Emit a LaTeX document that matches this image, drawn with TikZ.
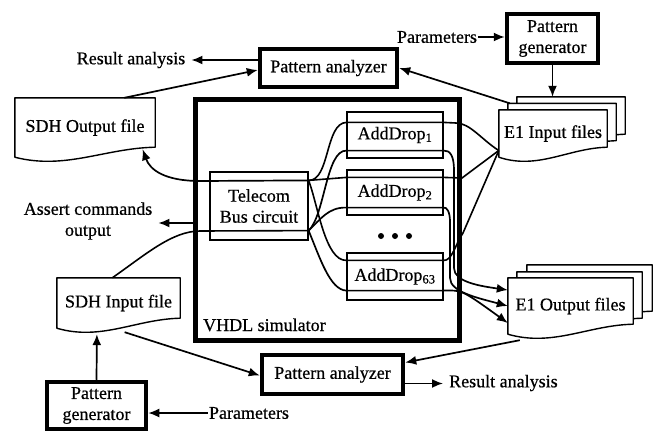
\documentclass[tikz,border=0pt]{standalone}
\usepackage{fontspec}
\setmainfont[FakeBold=0.6]{Liberation Serif}
\usetikzlibrary{arrows.meta,calc,backgrounds}
\newcommand\docoutline[1]{%
  \path[docline] (#1.north west) -- (#1.north east) -- ([yshift=10pt]#1.south east)
    .. controls ([yshift=9pt]$(#1.south west)!0.64!(#1.south east)$)
    and ([yshift=-13pt]$(#1.south west)!0.36!(#1.south east)$) .. (#1.south west) -- cycle;}
\begin{document}
\begin{tikzpicture}[x=1pt,y=-1pt,
  font=\fontsize{18}{21}\selectfont,
  every node/.style={inner sep=0pt},
  lbl/.style={inner xsep=6pt},
  parlbl/.style={inner xsep=1pt},
  heavybox/.style={draw, line width=4.5pt, align=center},
  thinbox/.style={draw, line width=1.2pt, align=center},
  frame/.style={draw, line width=5.5pt},
  docnode/.style={align=center},
  docline/.style={draw, fill=white, line width=1.4pt, line join=round},
  arr/.style={-{Latex[length=11pt,width=9pt]}, line width=1.7pt},
  wire/.style={line width=1.6pt},
  dot/.style={circle, fill, minimum size=6pt}]
\useasboundingbox (0,0) rectangle (653,434);

% nodes
\node[lbl] (ra1) at (131,60) {Result analysis};
\node[heavybox, minimum width=137pt, minimum height=38pt] (pa1) at (328.5,68) {Pattern analyzer};
\node[parlbl] (par1) at (437,37) {Parameters};
\node[heavybox, minimum width=91pt, minimum height=49pt] (pg1) at (552.5,38.5) {Pattern\\generator};
\node[frame, minimum width=264pt, minimum height=241pt] (vhdl) at (327.5,220) {};
\node[anchor=base west] (vlab) at (203,331) {VHDL simulator};
\node[thinbox, minimum width=98pt, minimum height=68pt] (tb) at (259,206) {Telecom\\Bus circuit};
\node[thinbox, minimum width=96pt, minimum height=46pt] (ad1) at (395,135) {AddDrop\textsubscript{1}};
\node[thinbox, minimum width=96pt, minimum height=45pt] (ad2) at (395,192.5) {AddDrop\textsubscript{2}};
\node[thinbox, minimum width=96pt, minimum height=47pt] (ad63) at (395,276.5) {AddDrop\textsubscript{63}};
\node[dot] (d1) at (381,236) {};
\node[dot] (d2) at (395,236) {};
\node[dot] (d3) at (409,236) {};
\node[lbl, align=center] (assert) at (88,221) {Assert commands\\output};
\node[docnode, minimum width=140pt, minimum height=59pt] (sdhout) at (85,127.5) {SDH Output file};
\node[docnode, minimum width=108pt, minimum height=47pt] (e1inc) at (571,120.5) {};
\node[docnode, minimum width=108pt, minimum height=47pt] (e1inb) at (562,127) {};
\node[docnode, minimum width=108pt, minimum height=47pt] (e1in) at (553,133.5) {E1 Input files};
\node[docnode, minimum width=123pt, minimum height=50pt] (sdhin) at (118.5,303) {SDH Input file};
\node[docnode, minimum width=125pt, minimum height=56pt] (e1outc) at (589.5,293) {};
\node[docnode, minimum width=125pt, minimum height=56pt] (e1outb) at (579.5,300) {};
\node[docnode, minimum width=125pt, minimum height=56pt] (e1out) at (570.5,306) {E1 Output files};
\node[heavybox, minimum width=141pt, minimum height=39pt] (pa2) at (332.5,374.5) {Pattern analyzer};
\node[lbl, anchor=west] (ra2) at (443,383) {Result analysis};
\node[heavybox, minimum width=99pt, minimum height=47pt] (pg2) at (96.5,405.5) {Pattern\\generator};
\node[parlbl] (par2) at (249,413) {Parameters};

\begin{pgfonlayer}{background}
  \docoutline{sdhout}
  \docoutline{e1inc}\docoutline{e1inb}\docoutline{e1in}
  \docoutline{sdhin}
  \docoutline{e1outc}\docoutline{e1outb}\docoutline{e1out}
\end{pgfonlayer}

% junction coordinates
\coordinate (tbT) at ([yshift=-9pt]tb.north east);
\coordinate (tbB) at ([yshift=10pt]tb.south east);
\coordinate (a1T) at ([yshift=-11pt]ad1.north west);
\coordinate (a1Te) at ([yshift=-11pt]ad1.north east);
\coordinate (a1B) at ([yshift=8pt]ad1.south west);
\coordinate (a1Be) at ([yshift=8pt]ad1.south east);
\coordinate (a2T) at ([yshift=-8pt]ad2.north west);
\coordinate (a2Te) at ([yshift=-8pt]ad2.north east);
\coordinate (a2B) at ([yshift=8pt]ad2.south west);
\coordinate (a2Be) at ([yshift=8pt]ad2.south east);
\coordinate (a63T) at ([yshift=-8pt]ad63.north west);
\coordinate (a63Te) at ([yshift=-8pt]ad63.north east);
\coordinate (a63B) at ([yshift=10pt]ad63.south west);
\coordinate (a63Be) at ([yshift=10pt]ad63.south east);
\coordinate (e1J) at ([yshift=-17pt]e1in.west);
\coordinate (e1o1) at ([yshift=16pt]e1out.west);
\coordinate (e1o2) at (e1out.west);
\coordinate (e1o3) at ([yshift=-17pt]e1out.west);
\coordinate (soT) at ([yshift=8pt]$(sdhout.south west)!0.91!(sdhout.south east)$);
\coordinate (soTop) at ($(sdhout.north west)!0.78!(sdhout.north east)$);
\coordinate (siTop) at ($(sdhin.north west)!0.45!(sdhin.north east)$);
\coordinate (siBot) at ([yshift=-4pt]$(sdhin.south west)!0.55!(sdhin.south east)$);
\coordinate (siIn) at ([yshift=-6pt]$(sdhin.south west)!0.325!(sdhin.south east)$);
\coordinate (eoBot) at ([xshift=12pt,yshift=-6pt]e1out.south west);
\coordinate (pa1o) at ([yshift=8pt]pa1.west);
\coordinate (pa1i) at ([yshift=-2pt]pa1.west);
\coordinate (vhdlo) at ([yshift=-3pt]vhdl.west);
\coordinate (pa2i) at ([yshift=-1pt]pa2.west);
\coordinate (pa2i2) at ([yshift=12pt]pa2.east);
\coordinate (pa2o) at ([yshift=-9pt]pa2.east);

% wires inside the simulator
\draw[wire] (tbT) .. controls (330,181) and (325,123) .. (a1T) -- (a1Te) -- (456,123)
  .. controls (470,123) and (482,140) .. (e1J);
\draw[wire] (tbT) -- (a2T) -- (a2Te) -- (462,178) -- (e1J);
\draw[wire] (tbT) .. controls (318,205) and (325,261) .. (a63T) -- (a63Te)
  .. controls (452,261) and (455,245) .. (463,233) -- (e1J);
\draw[wire] (siTop) .. controls (145,255) and (172,231) .. (200,231) -- (tbB);
\draw[wire,arr] (tbB) .. controls (325,215) and (326,150) .. (a1B) -- (a1Be)
  .. controls (450,150) and (454,156) .. (454,170) -- (454,268)
  .. controls (454,282) and (480,286) .. (e1o1);
\draw[wire,arr] (tbB) .. controls (320,220) and (328,207) .. (a2B) -- (a2Be)
  .. controls (447,207) and (450,212) .. (450,222) -- (450,278)
  .. controls (450,292) and (478,298) .. (e1o2);
\draw[wire,arr] (tbB) .. controls (320,258) and (330,290) .. (a63B) -- (a63Be)
  .. controls (462,290) .. (e1o3);

% outer arrows
\draw[arr] (tbT) -- (200,181) .. controls (165,181) and (150,170) .. (soT);
\draw[arr] (pa1o) -- (pa1o -| ra1.east);
\draw[arr] (soTop) -- (pa1i);
\draw[arr] ([xshift=2pt]e1inb.north west) -- (pa1.east);
\draw[arr] (par1.east) -- (par1.east -| pg1.west);
\draw[arr] (pg1.south) -- (pg1.south |- e1inc.north);
\draw[arr] (vhdlo) -- (vhdlo -| assert.east);
\draw[arr] (pg2.north) -- (siIn);
\draw[arr] (par2.west) -- (par2.west -| pg2.east);
\draw[arr] (siBot) -- (pa2i);
\draw[arr] (eoBot) -- (pa2i2);
\draw[arr] (pa2o) -- (pa2o -| ra2.west);
\end{tikzpicture}
\end{document}
